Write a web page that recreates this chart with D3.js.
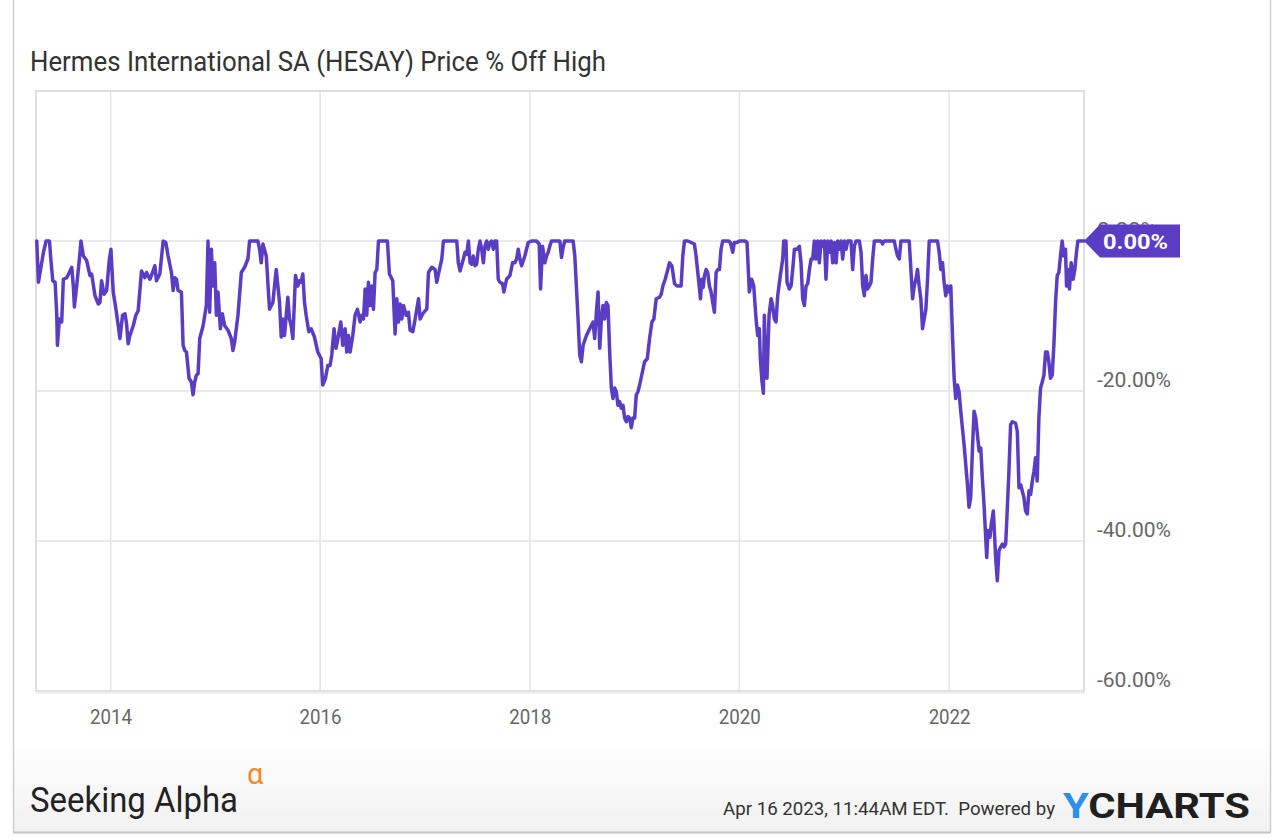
<!DOCTYPE html>
<html>
<head>
<meta charset="utf-8">
<script src="https://cdn.jsdelivr.net/npm/d3@7"></script>
<style>
  html, body { margin: 0; padding: 0; background: #fff; }
  svg { display: block; }
  text { font-family: Roboto, "Liberation Sans", sans-serif; }
</style>
</head>
<body>
<svg id="chart" width="1280" height="837"></svg>
<script>
// ---------------- DATA ----------------
const chartTitle = "Hermes International SA (HESAY) Price % Off High";
const xTickYears = [2014, 2016, 2018, 2020, 2022];
const yTickValues = [0, -20, -40, -60];
const lastValueLabel = "0.00%";
const footerDate = "Apr 16 2023, 11:44AM EDT.  Powered by";

// observation dates as fractional years
const dateYears = [
2013.295,2013.311,2013.359,2013.384,2013.416,2013.429,2013.448,2013.470,2013.486,2013.492,2013.511,2013.533,2013.549,2013.581,2013.606,2013.629,2013.644,2013.654,2013.676,2013.702,2013.717,2013.740,2013.771,2013.803,2013.819,2013.851,2013.883,2013.898,2013.914,2013.937,2013.962,2013.987,
2014.003,2014.025,2014.051,2014.073,2014.089,2014.114,2014.137,2014.152,2014.168,2014.184,2014.216,2014.241,2014.263,2014.295,2014.327,2014.343,2014.375,2014.406,2014.422,2014.438,2014.470,2014.502,2014.527,2014.549,2014.581,2014.597,2014.613,2014.629,2014.644,2014.676,2014.692,2014.708,2014.724,2014.749,2014.771,2014.787,2014.803,2014.819,2014.835,2014.851,2014.883,2014.914,2014.930,2014.946,2014.962,2014.978,2014.994,
2015.010,2015.025,2015.048,2015.067,2015.089,2015.121,2015.152,2015.168,2015.184,2015.216,2015.248,2015.279,2015.311,2015.327,2015.359,2015.406,2015.422,2015.438,2015.454,2015.486,2015.517,2015.549,2015.581,2015.597,2015.613,2015.629,2015.644,2015.660,2015.692,2015.708,2015.724,2015.740,2015.765,2015.787,2015.803,2015.819,2015.835,2015.851,2015.867,2015.892,2015.914,2015.946,2015.978,
2016.010,2016.025,2016.051,2016.073,2016.095,2016.111,2016.133,2016.152,2016.175,2016.197,2016.216,2016.238,2016.254,2016.270,2016.286,2016.311,2016.333,2016.356,2016.381,2016.397,2016.413,2016.429,2016.444,2016.460,2016.476,2016.492,2016.508,2016.524,2016.540,2016.556,2016.603,2016.641,2016.660,2016.692,2016.714,2016.730,2016.746,2016.762,2016.778,2016.794,2016.819,2016.841,2016.857,2016.883,2016.905,2016.937,2016.952,2016.978,
2017.000,2017.016,2017.032,2017.063,2017.095,2017.111,2017.137,2017.159,2017.175,2017.222,2017.254,2017.302,2017.317,2017.333,2017.365,2017.381,2017.397,2017.413,2017.429,2017.444,2017.460,2017.476,2017.492,2017.508,2017.524,2017.540,2017.556,2017.571,2017.587,2017.603,2017.619,2017.635,2017.651,2017.667,2017.683,2017.698,2017.714,2017.740,2017.752,2017.778,2017.810,2017.835,2017.857,2017.873,2017.889,2017.905,2017.921,2017.952,2017.984,
2018.016,2018.063,2018.089,2018.102,2018.121,2018.143,2018.159,2018.175,2018.190,2018.206,2018.254,2018.286,2018.302,2018.317,2018.333,2018.365,2018.413,2018.429,2018.444,2018.460,2018.476,2018.492,2018.508,2018.540,2018.571,2018.603,2018.619,2018.635,2018.651,2018.667,2018.683,2018.698,2018.714,2018.730,2018.746,2018.762,2018.778,2018.794,2018.810,2018.825,2018.841,2018.857,2018.873,2018.889,2018.905,2018.921,2018.937,2018.952,2018.968,2018.984,
2019.000,2019.016,2019.032,2019.048,2019.095,2019.121,2019.143,2019.165,2019.184,2019.206,2019.238,2019.254,2019.270,2019.292,2019.317,2019.333,2019.356,2019.381,2019.406,2019.429,2019.444,2019.460,2019.476,2019.508,2019.540,2019.571,2019.587,2019.610,2019.629,2019.641,2019.654,2019.667,2019.683,2019.698,2019.714,2019.730,2019.746,2019.762,2019.778,2019.794,2019.810,2019.825,2019.841,2019.873,2019.895,2019.914,2019.937,2019.952,2019.978,
2020.000,2020.032,2020.054,2020.073,2020.095,2020.117,2020.137,2020.159,2020.175,2020.190,2020.200,2020.216,2020.229,2020.238,2020.251,2020.263,2020.283,2020.302,2020.317,2020.333,2020.349,2020.365,2020.390,2020.413,2020.422,2020.444,2020.454,2020.476,2020.492,2020.508,2020.524,2020.549,2020.571,2020.587,2020.603,2020.619,2020.635,2020.651,2020.667,2020.683,2020.698,2020.714,2020.730,2020.746,2020.762,2020.778,2020.794,2020.810,2020.825,2020.841,2020.857,2020.873,2020.889,2020.905,2020.921,2020.937,2020.952,2020.968,2020.984,
2021.000,2021.016,2021.032,2021.063,2021.079,2021.095,2021.111,2021.143,2021.159,2021.175,2021.190,2021.206,2021.222,2021.238,2021.254,2021.270,2021.286,2021.317,2021.349,2021.365,2021.381,2021.413,2021.444,2021.476,2021.492,2021.508,2021.524,2021.540,2021.571,2021.603,2021.619,2021.635,2021.651,2021.667,2021.683,2021.698,2021.714,2021.730,2021.746,2021.762,2021.778,2021.794,2021.810,2021.841,2021.889,2021.905,2021.921,2021.937,2021.952,2021.968,2021.984,
2022.000,2022.016,2022.032,2022.048,2022.063,2022.079,2022.095,2022.111,2022.143,2022.175,2022.190,2022.206,2022.222,2022.238,2022.254,2022.270,2022.286,2022.302,2022.317,2022.333,2022.349,2022.359,2022.371,2022.390,2022.403,2022.422,2022.435,2022.444,2022.460,2022.476,2022.492,2022.508,2022.524,2022.540,2022.556,2022.571,2022.587,2022.603,2022.635,2022.651,2022.667,2022.683,2022.698,2022.714,2022.730,2022.746,2022.762,2022.778,2022.794,2022.810,2022.825,2022.841,2022.857,2022.873,2022.889,2022.905,2022.921,2022.937,2022.952,2022.968,2022.984,
2023.000,2023.016,2023.032,2023.048,2023.063,2023.079,2023.095,2023.111,2023.121,2023.133,2023.149,2023.165,2023.184,2023.200,2023.216,2023.229,2023.270,2023.292
];

// % off the running high
const offHighPct = [
0,-5.5,-1.5,0,0,-2.4,-5.3,-5.5,-9.9,-13.9,-10.4,-10.8,-5.1,-4.9,-4.2,-3.5,-6.0,-8.8,-6.0,-2.4,0,-2.0,-2.6,-4.6,-4.4,-7.3,-8.4,-8.2,-5.3,-7.1,-6.6,-2.6,
-1.1,-6.8,-9.1,-11.3,-13.0,-9.9,-9.7,-11.0,-13.7,-12.6,-11.3,-9.9,-9.3,-4.0,-4.9,-4.2,-5.1,-4.0,-3.3,-5.3,-4.4,0,-0.2,-2.0,-4.2,-6.6,-4.9,-5.1,-6.6,-6.8,-13.9,-14.6,-14.8,-18.3,-18.8,-20.5,-18.8,-17.9,-17.7,-13.0,-11.3,-8.6,0,-9.5,-1.1,-6.0,-2.9,
-9.9,-6.8,-11.7,-9.7,-11.3,-11.9,-13.0,-14.6,-13.5,-9.9,-4.2,-3.5,-2.4,0,0,0,-1.1,-2.9,-0.4,-2.0,-9.1,-8.2,-3.8,-6.0,-8.2,-12.8,-10.4,-12.6,-7.5,-10.4,-11.3,-13.0,-4.6,-6.0,-5.3,-5.5,-4.4,-8.2,-9.9,-12.1,-11.7,-12.8,-14.8,
-15.7,-19.2,-18.3,-16.6,-16.6,-15.2,-11.7,-14.3,-12.6,-10.8,-13.9,-11.7,-14.8,-12.6,-14.8,-12.6,-9.9,-9.1,-10.8,-9.9,-10.4,-6.4,-9.9,-5.5,-8.6,-6.0,-9.1,-4.2,-3.8,0,0,0,-4.4,-5.3,-12.4,-7.7,-10.8,-8.4,-10.4,-8.6,-9.9,-9.5,-11.9,-12.1,-10.4,-7.7,-10.4,-9.7,
-9.3,-9.1,-4.2,-3.5,-3.8,-5.5,-3.8,-2.4,0,0,0,0,-2.9,-4.0,-2.4,-1.5,-1.8,0,-2.9,-3.1,-2.0,-3.3,-3.1,-1.1,0,-1.1,-2.9,-0.7,0,-1.1,-0.2,0,-1.1,0,0,-5.1,-5.5,-5.7,-6.8,-5.1,-4.6,-2.9,-2.9,-2.4,-1.1,-2.4,-3.3,-2.0,-0.2,
0,0,-0.4,-6.4,-0.7,-2.9,-2.0,-1.5,-0.7,0,0,0,-2.2,-0.9,0,0,0,-2.0,-6.0,-10.4,-15.2,-16.1,-13.9,-12.6,-11.7,-10.8,-13.0,-9.5,-6.8,-14.3,-10.4,-8.6,-10.4,-8.2,-8.6,-14.8,-19.6,-21.0,-19.6,-20.1,-21.9,-21.4,-22.3,-21.9,-23.6,-24.1,-23.4,-23.6,-24.9,-23.6,
-23.6,-20.5,-20.1,-19.2,-16.1,-15.7,-13.0,-10.8,-10.4,-7.7,-7.5,-7.1,-6.0,-5.1,-3.8,-2.9,-3.3,-5.7,-6.0,-6.0,-6.0,-2.0,0,0,-0.2,-0.4,-2.0,-5.1,-7.7,-5.1,-6.2,-4.6,-3.8,-4.2,-6.0,-6.8,-8.2,-9.5,-4.2,-3.8,-3.8,-1.1,0,0,0,-0.2,-1.5,-0.2,-0.2,
0,0,0,-0.2,-6.8,-5.1,-6.0,-10.4,-12.6,-11.7,-15.7,-18.8,-20.3,-9.9,-17.9,-18.3,-9.9,-7.7,-8.6,-10.4,-10.8,-7.3,-4.6,-2.4,0,0,-5.5,-6.4,-6.0,-3.8,-1.1,-1.1,-0.7,-2.9,-7.7,-8.6,-6.0,-5.7,-3.8,-2.4,-2.4,0,-2.4,0,-2.9,0,-0.7,0,-5.1,0,-1.5,0,-2.9,-0.2,-2.9,0,-1.1,0,-2.4,
0,-1.1,0,0,-3.8,-0.7,0,0,-1.5,-6.0,-7.3,-4.6,-6.4,-6.0,-5.5,-2.4,0,0,0,-0.4,0,0,0,0,-1.1,-2.0,-2.4,0,0,0,0,-3.8,-7.7,-6.0,-5.1,-3.8,-6.0,-7.7,-11.7,-10.4,-9.1,-5.1,0,0,0,-1.5,-3.8,-2.9,-5.5,-7.3,-6.0,
-6.8,-6.0,-12.6,-18.3,-21.0,-19.2,-20.1,-22.7,-27.2,-32.5,-35.5,-34.2,-28.0,-22.7,-23.6,-25.8,-28.0,-27.6,-31.6,-35.1,-39.5,-42.2,-38.6,-39.5,-37.7,-36.0,-39.5,-42.2,-45.3,-41.3,-40.8,-40.4,-40.8,-40.4,-35.5,-30.7,-24.5,-24.1,-24.3,-25.4,-32.9,-32.5,-33.3,-34.2,-36.0,-36.4,-33.3,-33.8,-32.0,-30.7,-28.9,-32.0,-23.6,-19.6,-18.8,-17.9,-14.8,-14.8,-16.1,-18.3,-17.9,
-13.9,-8.2,-4.6,-4.2,-2.0,0,-2.0,-1.1,-6.0,-3.8,-6.4,-2.9,-5.1,-3.8,-1.5,0,0,0
];

// ---------------- CHART ----------------
function fracYearToDate(y) {
  const yr = Math.floor(y);
  const s = new Date(yr, 0, 1), e = new Date(yr + 1, 0, 1);
  return new Date(+s + (y - yr) * (e - s));
}
const n = Math.min(dateYears.length, offHighPct.length);
const data = d3.range(n).map(i => ({ date: fracYearToDate(dateYears[i]), value: offHighPct[i] }));

const svg = d3.select("#chart");
const plot = { left: 36, top: 91, right: 1084, bottom: 691 };
const purple = "#5b3cc4";

// footer gradient & outer frame
const defs = svg.append("defs");
const grad = defs.append("linearGradient").attr("id", "foot").attr("x1", 0).attr("y1", 0).attr("x2", 0).attr("y2", 1);
grad.append("stop").attr("offset", "0%").attr("stop-color", "#ffffff");
grad.append("stop").attr("offset", "100%").attr("stop-color", "#f1f1f1");
svg.append("rect").attr("x", 13).attr("y", 740).attr("width", 1257).attr("height", 92).attr("fill", "url(#foot)");
svg.append("line").attr("x1", 13.5).attr("x2", 13.5).attr("y1", 0).attr("y2", 832).attr("stroke", "#cfcfcf").attr("stroke-width", 1.5);
svg.append("line").attr("x1", 1270.5).attr("x2", 1270.5).attr("y1", 0).attr("y2", 832).attr("stroke", "#cfcfcf").attr("stroke-width", 1.5);
svg.append("line").attr("x1", 13).attr("x2", 1271).attr("y1", 832.5).attr("y2", 832.5).attr("stroke", "#c4c4c4").attr("stroke-width", 2);

// title
svg.append("text").attr("x", 30).attr("y", 71)
  .attr("font-size", 27).attr("fill", "#333")
  .attr("textLength", 576).attr("lengthAdjust", "spacingAndGlyphs")
  .text(chartTitle);

const x = d3.scaleTime()
  .domain([new Date(2013, 3, 16), new Date(2023, 3, 16)])
  .range([plot.left, plot.right]);
const y = d3.scaleLinear().domain([-60, 20]).range([plot.bottom, plot.top]);

// grid
const grid = svg.append("g");
grid.selectAll("line.v").data(xTickYears).join("line")
  .attr("x1", d => x(new Date(d, 0, 1))).attr("x2", d => x(new Date(d, 0, 1)))
  .attr("y1", plot.top).attr("y2", plot.bottom)
  .attr("stroke", "#e3e3e3").attr("stroke-width", 1.5);
grid.selectAll("line.h").data([0, -20, -40]).join("line")
  .attr("x1", plot.left).attr("x2", plot.right)
  .attr("y1", d => y(d)).attr("y2", d => y(d))
  .attr("stroke", "#e3e3e3").attr("stroke-width", 1.5);

// frame
svg.append("rect").attr("x", plot.left).attr("y", plot.top)
  .attr("width", plot.right - plot.left).attr("height", plot.bottom - plot.top)
  .attr("fill", "none").attr("stroke", "#d4d4d4").attr("stroke-width", 1.5);
svg.append("line").attr("x1", plot.left).attr("x2", plot.right + 1)
  .attr("y1", plot.bottom + 1.5).attr("y2", plot.bottom + 1.5)
  .attr("stroke", "#ececec").attr("stroke-width", 2);

// x axis
const xAxis = d3.axisBottom(x)
  .tickValues(xTickYears.map(d => new Date(d, 0, 1)))
  .tickFormat(d3.timeFormat("%Y")).tickSize(0).tickPadding(0);
const gx = svg.append("g").attr("transform", `translate(0,${plot.bottom})`).call(xAxis);
gx.select(".domain").remove();
gx.selectAll("text").attr("y", 33).attr("dy", 0)
  .attr("font-size", 20).attr("fill", "#666").attr("font-family", "Roboto")
  .attr("textLength", 42).attr("lengthAdjust", "spacingAndGlyphs");

// y axis (the 0.00% label sits partly behind the value badge, as in the source)
const yAxis = d3.axisRight(y).tickValues(yTickValues)
  .tickFormat(d => d.toFixed(2) + "%").tickSize(0).tickPadding(0);
const gy = svg.append("g").attr("transform", `translate(${plot.right + 13},0)`).call(yAxis);
gy.select(".domain").remove();
gy.selectAll("text").attr("x", 0).attr("dy", "-0.22em")
  .attr("font-size", 21).attr("fill", "#666").attr("font-family", "Roboto")
  .attr("text-anchor", "start")
  .attr("textLength", d => d === 0 ? 60 : 74).attr("lengthAdjust", "spacingAndGlyphs");

// line
const line = d3.line().x(d => x(d.date)).y(d => y(d.value));
svg.append("path").datum(data)
  .attr("d", line).attr("fill", "none")
  .attr("stroke", purple).attr("stroke-width", 3.5)
  .attr("stroke-linejoin", "round").attr("stroke-linecap", "round");

// last value badge
const last = data[data.length - 1];
const by = y(last.value), bx = plot.right;
svg.append("path")
  .attr("d", `M${bx},${by} L${bx + 16},${by - 16.5} L${bx + 96},${by - 16.5} L${bx + 96},${by + 16.5} L${bx + 16},${by + 16.5} Z`)
  .attr("fill", purple);
svg.append("text").attr("x", bx + 19).attr("y", by + 7.5)
  .attr("font-size", 21).attr("font-weight", 700).attr("fill", "#fff")
  .attr("textLength", 65).attr("lengthAdjust", "spacingAndGlyphs")
  .text(lastValueLabel);

// footer
svg.append("text").attr("x", 30).attr("y", 812)
  .attr("font-family", "Lato, 'Open Sans', sans-serif").attr("font-size", 35).attr("fill", "#222")
  .attr("textLength", 208).attr("lengthAdjust", "spacingAndGlyphs").text("Seeking Alpha");
svg.append("text").attr("x", 247).attr("y", 784)
  .attr("font-family", "'DejaVu Serif', serif").attr("font-size", 29).attr("fill", "#f58a2a")
  .text("α");

svg.append("text").attr("x", 723).attr("y", 815)
  .attr("font-size", 19).attr("fill", "#333")
  .attr("textLength", 332).attr("lengthAdjust", "spacingAndGlyphs")
  .style("white-space", "pre")
  .text(footerDate);
const yc = svg.append("text").attr("x", 1063).attr("y", 818)
  .attr("font-family", "'Open Sans', 'DejaVu Sans', sans-serif").attr("font-size", 35).attr("font-weight", 700)
  .attr("textLength", 187).attr("lengthAdjust", "spacingAndGlyphs");
yc.append("tspan").attr("fill", "#2e8fe8").text("Y");
yc.append("tspan").attr("fill", "#1f1f1f").text("CHARTS");
</script>
</body>
</html>
